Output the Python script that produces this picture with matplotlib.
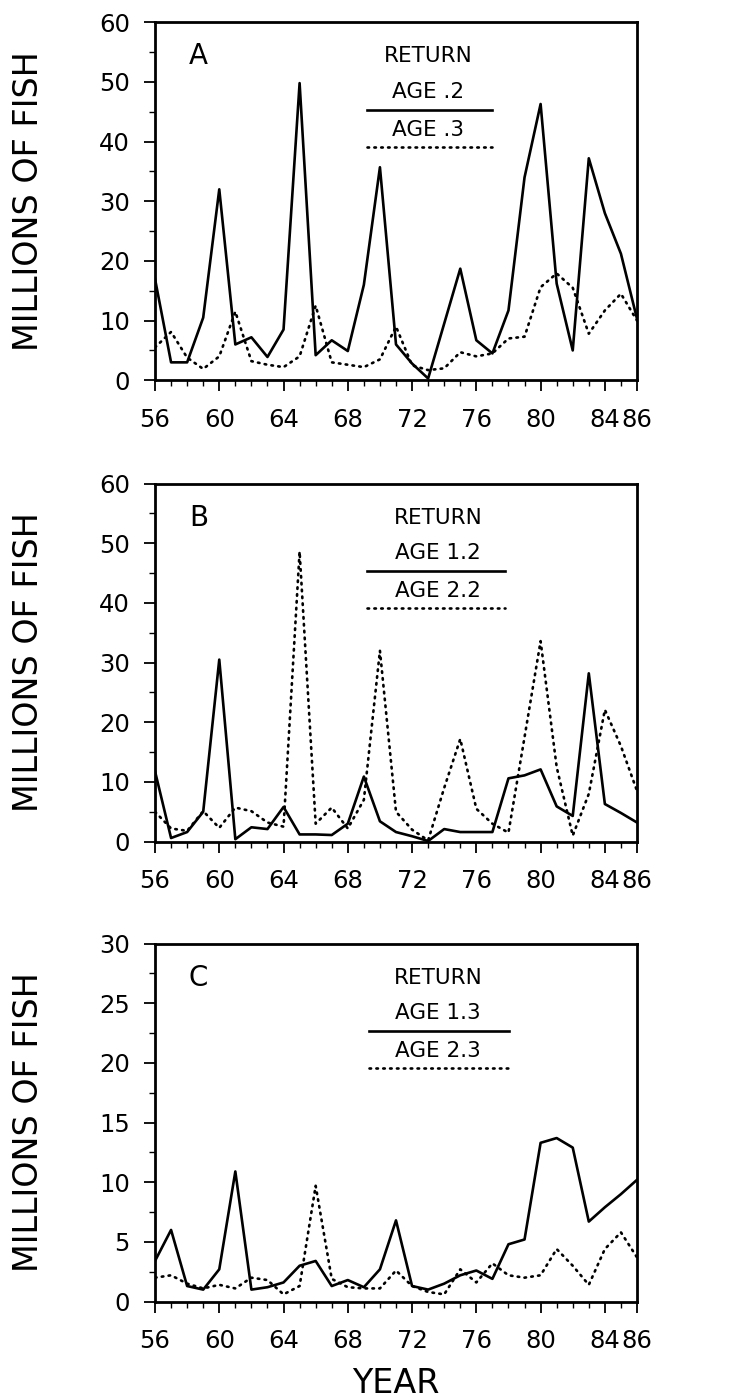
import matplotlib
matplotlib.use("Agg")
import matplotlib.pyplot as plt
from matplotlib.ticker import MultipleLocator, FixedLocator

years = list(range(56, 87))
xtick_labels = [56, 60, 64, 68, 72, 76, 80, 84, 86]

A_age2 = [17, 3, 3, 10.5, 32, 6, 7.2, 3.9, 8.5, 49.8, 4.2, 6.7, 4.9, 16, 35.7, 6,
          2.8, 0.3, 9.5, 18.7, 6.7, 4.5, 11.7, 34, 46.3, 16.2, 5, 37.2, 28, 21.2, 10.3]
A_age3 = [5.5, 8.1, 3.8, 1.9, 4.0, 11.5, 3.2, 2.6, 2.2, 4.0, 12.5, 3.0, 2.6, 2.2, 3.5, 9.0,
          2.5, 1.7, 2.0, 4.7, 4.0, 4.5, 7.0, 7.3, 15.6, 17.9, 15.5, 7.8, 11.7, 14.5, 10.0]

B_age12 = [11.8, 0.6, 1.6, 5.0, 30.5, 0.4, 2.4, 2.1, 5.8, 1.2, 1.2, 1.1, 3.0, 10.9, 3.4, 1.6,
           0.9, 0.1, 2.1, 1.6, 1.6, 1.6, 10.6, 11.1, 12.1, 5.9, 4.3, 28.2, 6.3, 4.8, 3.2]
B_age22 = [5.0, 2.2, 1.8, 5.1, 2.3, 5.7, 5.1, 3.2, 2.5, 48.6, 3.0, 5.7, 2.2, 7.0, 32.0, 5.0,
           2.0, 0.2, 9.0, 17.2, 5.5, 3.0, 1.5, 17.5, 33.6, 12.5, 1.0, 8.0, 22.1, 16.0, 8.5]

C_age13 = [3.4, 6.0, 1.3, 1.0, 2.7, 10.9, 1.0, 1.2, 1.6, 3.0, 3.4, 1.3, 1.8, 1.2, 2.7, 6.8,
           1.3, 1.0, 1.5, 2.2, 2.6, 1.9, 4.8, 5.2, 13.3, 13.7, 12.9, 6.7, 7.9, 9.0, 10.2]
C_age23 = [2.0, 2.2, 1.5, 1.1, 1.4, 1.1, 2.0, 1.8, 0.6, 1.3, 9.7, 1.9, 1.2, 1.1, 1.1, 2.6,
           1.3, 0.8, 0.6, 2.7, 1.6, 3.2, 2.2, 2.0, 2.2, 4.4, 3.0, 1.4, 4.4, 5.8, 3.7]

panels = [
    ("A", A_age2, A_age3, "AGE .2", "AGE .3", 60, 10, 5, 0.728, 0.566, (0.44, 0.70)),
    ("B", B_age12, B_age22, "AGE 1.2", "AGE 2.2", 60, 10, 5, 0.398, 0.587, (0.44, 0.727)),
    ("C", C_age13, C_age23, "AGE 1.3", "AGE 2.3", 30, 5, 2.5, 0.069, 0.587, (0.444, 0.735)),
]

plt.rcParams['font.family'] = ['DejaVu Sans']
fig = plt.figure(figsize=(7.48, 13.98), dpi=100)

W, H = 748, 1398
dot_style = (0, (0.6, 2.0))
for (letter, s1, s2, lab1, lab2, ymax, ymaj, ymin, bottom, tx, (lx0, lx1)) in panels:
    ax = fig.add_axes([155 / W, bottom, 482 / W, 358 / H])
    ax.plot(years, s1, color='black', lw=1.9)
    ax.plot(years, s2, color='black', lw=1.9, linestyle=dot_style, dash_capstyle='round')
    ax.set_xlim(56, 86)
    ax.set_ylim(0, ymax)
    ax.xaxis.set_major_locator(FixedLocator(xtick_labels))
    ax.xaxis.set_minor_locator(MultipleLocator(1))
    ax.yaxis.set_major_locator(MultipleLocator(ymaj))
    ax.yaxis.set_minor_locator(MultipleLocator(ymin))
    ax.tick_params(axis='both', which='major', direction='out', length=8, width=1.3,
                   labelsize=17.5)
    ax.tick_params(axis='y', which='major', pad=10)
    ax.tick_params(axis='x', which='major', pad=12)
    ax.tick_params(axis='both', which='minor', direction='out', length=4.5, width=1.0)
    for sp in ax.spines.values():
        sp.set_linewidth(2.0)
    ax.set_ylabel("MILLIONS OF FISH", fontsize=24)
    ax.yaxis.set_label_coords(-0.228, 0.5)

    ax.text(0.09, 0.905, letter, transform=ax.transAxes, fontsize=20,
            ha='center', va='center')
    ax.text(tx, 0.905, "RETURN", transform=ax.transAxes, fontsize=15.5,
            ha='center', va='center')
    ax.text(tx, 0.805, lab1, transform=ax.transAxes, fontsize=15.5,
            ha='center', va='center')
    ax.plot([lx0, lx1], [0.755, 0.755], transform=ax.transAxes, color='black', lw=1.9)
    ax.text(tx, 0.70, lab2, transform=ax.transAxes, fontsize=15.5,
            ha='center', va='center')
    ax.plot([lx0, lx1], [0.652, 0.652], transform=ax.transAxes, color='black', lw=1.9,
            linestyle=dot_style, dash_capstyle='round')
    if letter == "C":
        ax.set_xlabel("YEAR", fontsize=24, labelpad=10)

fig.savefig("out.png", dpi=100)
